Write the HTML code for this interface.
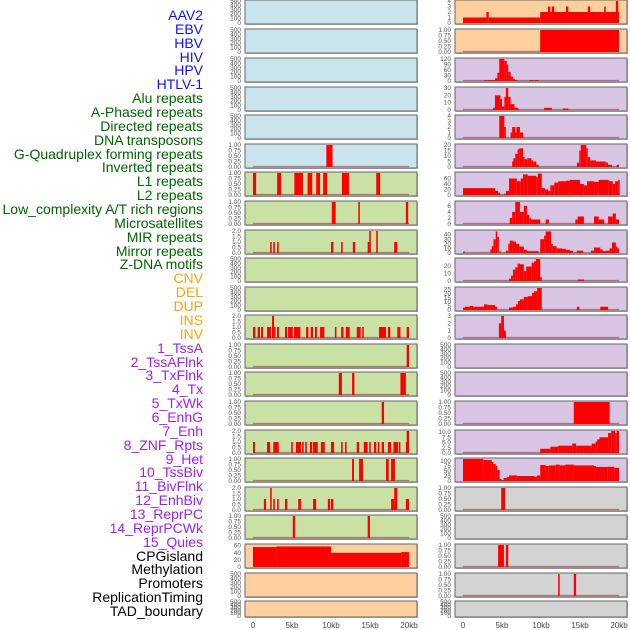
<!DOCTYPE html>
<html><head><meta charset="utf-8">
<style>
body{margin:0;background:#fff;width:630px;height:630px;overflow:hidden;font-family:"Liberation Sans",sans-serif}
#lbl div{position:absolute;right:427px;font-size:14px;line-height:14px;white-space:nowrap}
</style></head>
<body>
<div id="lbl"></div>
<svg id="chart" width="630" height="630" style="position:absolute;left:0;top:0"></svg>
<script>
const labels=["AAV2","EBV","HBV","HIV","HPV","HTLV-1","Alu repeats","A-Phased repeats","Directed repeats","DNA transposons","G-Quadruplex forming repeats","Inverted repeats","L1 repeats","L2 repeats","Low_complexity A/T rich regions","Microsatellites","MIR repeats","Mirror repeats","Z-DNA motifs","CNV","DEL","DUP","INS","INV","1_TssA","2_TssAFlnk","3_TxFlnk","4_Tx","5_TxWk","6_EnhG","7_Enh","8_ZNF_Rpts","9_Het","10_TssBiv","11_BivFlnk","12_EnhBiv","13_ReprPC","14_ReprPCWk","15_Quies","CPGisland","Methylation","Promoters","ReplicationTiming","TAD_boundary"];
const labelColors=["#1010ff","#006400","#ffa500","#a020f0","#000"];
const groupSizes=[6,13,5,15,5];
const T500=["0","100","200","300","400","500"],T1=["0.00","0.25","0.50","0.75","1.00"],T2=["0.0","0.5","1.0","1.5","2.0"];
const xTicks=[0,5,10,15,20];
const xTickLabels=["0","5kb","10kb","15kb","20kb"];
// each track: [max, ticks, segments [startKb,endKb,value]]
const leftTracks=[
[500,T500,[]],[500,T500,[]],[500,T500,[]],[500,T500,[]],[500,T500,[]],
[1,T1,[[9.4,10.2,1]]],
[1,T1,[[0,0.4,1],[3.1,3.6,1],[5.3,6.4,1],[7.0,7.6,1],[8.1,8.6,1],[9.0,9.5,1],[11.4,12.3,1],[15.8,16.3,1]]],
[1,T1,[[10.1,10.6,1],[13.5,13.7,1],[19.6,19.9,1]]],
[2,T2,[[2.2,2.4,1],[2.6,2.8,1],[3.1,3.3,1],[10.0,10.3,1],[11.3,11.5,1],[12.8,13.1,1],[14.7,15.0,1],[14.9,15.1,2],[15.8,16.0,2],[18.1,18.5,1]]],
[500,T500,[]],[500,T500,[]],
[2,T2,[[0,0.3,1],[0.6,0.9,1],[1.03,1.28,1],[1.8,2.3,1],[2.44,2.7,2],[2.7,2.8,1],[3.08,3.33,1],[4.1,4.36,1],[4.5,5.1,1],[5.26,6.07,1],[6.8,7.1,1],[7.4,7.7,1],[7.95,8.2,1],[8.6,9.15,1],[10.5,10.7,1],[11.3,11.6,1],[11.9,12.4,1],[13.3,13.8,1],[14.0,14.2,1],[16.15,17.05,1],[17.3,17.6,1],[18.5,18.9,1],[19.7,20.0,1]]],
[1,T1,[[19.7,20.0,1]]],
[1,T1,[[11.0,11.4,1],[12.7,13.0,1],[18.9,19.6,1]]],
[1,T1,[[16.5,16.8,1]]],
[2,T2,[[0,0.25,1],[1.8,2.2,1],[2.6,3.3,1],[4.9,5.1,1],[5.5,6.15,1],[6.3,6.5,1],[6.7,6.9,1],[7.3,7.6,1],[7.7,8.3,1],[8.7,9.2,1],[10.0,10.4,1],[11.3,11.5,1],[11.8,12.0,1],[13.3,13.6,1],[14.2,14.7,1],[14.9,15.1,1],[15.5,15.8,1],[16.0,16.2,1],[16.5,16.8,1],[17.3,17.7,1],[18.0,18.6,1],[18.7,18.9,1],[19.6,19.7,1],[19.7,20.0,2]]],
[1,T1,[[12.7,12.95,1],[13.6,14.1,1],[17.05,17.4,1],[17.7,18.2,1]]],
[2,T2,[[1.4,1.67,1],[2.2,2.4,2],[2.6,2.8,1],[3.1,3.3,1],[4.1,4.4,1],[5.8,6.15,1],[7.7,8.1,1],[9.6,9.9,1],[10.0,10.3,1],[17.7,18.1,1],[18.1,18.5,2],[19.6,20.0,1]]],
[1,T1,[[5.1,5.4,1],[14.7,15.0,1]]],
[62,["0","20","40","60"],[[0,3,56],[3,10,58],[10,19,40],[19,20,42]]],
[500,T500,[]],[500,T500,[]]
];
const rightTracks=[
[4,["0","1","2","3","4"],[[0,3.0,1],[3.0,3.3,2],[3.3,9.9,1],[9.9,20,2],[10.9,11.2,3],[11.4,11.7,3],[13.2,13.5,3],[16.0,16.3,3],[18.1,18.3,3],[19.6,19.9,4]]],
[1,T1,[[9.9,20,1]]],
[120,["0","30","60","90","120"],[[2.7,4.1,5],[4.1,4.4,15],[4.4,4.65,45],[4.65,5.3,120],[5.3,5.6,110],[5.6,5.8,90],[5.8,6.1,50],[6.1,6.4,25],[6.4,6.7,10],[6.7,7.0,5],[8.5,9.1,5],[9.2,9.7,5]]],
[30,["0","10","20","30"],[[3.85,4.1,3],[4.1,4.8,20],[4.8,5.0,15],[5.0,5.3,5],[5.3,5.5,18],[5.5,5.8,30],[5.8,6.1,18],[6.1,6.6,8],[6.6,7.1,3],[10.4,11.4,3],[12.8,13.5,2]]],
[4,["0","1","2","3","4"],[[4.65,5.3,4],[5.3,5.5,2],[6.1,6.3,1],[6.3,6.7,2],[6.7,6.85,1],[6.85,7.3,2],[7.3,7.7,1]]],
[20,["0","5","10","15","20"],[[6.3,6.45,5],[6.45,6.7,8],[6.7,7.0,12],[7.0,7.2,16],[7.2,7.7,17],[7.7,7.9,9],[7.9,8.25,7],[8.25,8.75,8],[8.75,9.0,6],[9.0,9.4,5],[9.4,9.7,2],[14.6,14.9,4],[14.9,15.1,15],[15.1,15.8,20],[15.8,16.0,17],[16.0,16.3,9],[16.3,17.05,6],[17.05,18.3,5],[18.3,18.6,4],[18.6,19.1,2],[19.7,20,2]]],
[80,["0","20","40","60"],[[0,4.1,25],[4.1,4.5,15],[4.5,4.75,8],[5.3,5.5,5],[5.5,5.9,15],[5.9,6.9,60],[6.9,7.4,50],[7.4,7.7,60],[7.7,8.3,75],[8.3,9.4,70],[9.4,9.6,65],[9.6,10.1,78],[10.1,10.5,25],[10.5,10.9,20],[10.9,11.2,15],[11.2,11.7,35],[11.7,12.2,45],[12.2,13.2,50],[13.2,13.7,52],[13.7,15.0,55],[15.0,15.5,40],[15.5,15.9,35],[15.9,16.8,50],[16.8,17.4,48],[17.4,18.7,55],[18.7,19.2,50],[19.2,19.5,40],[19.5,19.9,50],[19.9,20,55]]],
[7.3,["0","2","4","6"],[[6.0,6.3,2],[6.3,6.7,4],[6.7,7.3,7.3],[7.3,7.8,4],[7.8,8.2,6],[8.2,8.5,3],[8.5,8.7,2],[8.7,9.9,1.5],[10.6,11.0,1.5],[14.4,14.7,1.5],[14.7,15.5,2.5],[16.8,17.4,2.5],[17.4,18.1,1.5],[18.6,19.2,2.5],[19.2,19.6,3.5],[19.6,20,1.5]]],
[48,["0","10","20","30","40"],[[0,0.26,3],[3.5,3.7,8],[3.7,3.9,15],[3.9,4.2,30],[4.2,4.4,47],[4.4,4.6,35],[4.6,4.9,3],[5.5,5.8,5],[5.8,6.0,20],[6.0,6.4,27],[6.4,6.8,25],[6.8,7.2,20],[7.2,7.8,14],[7.8,8.2,7],[8.2,9.7,4],[9.9,10.4,30],[10.4,10.6,38],[10.6,11.3,47],[11.3,11.5,20],[11.5,12.0,15],[12.0,12.7,10],[12.7,13.2,9],[13.2,13.7,7],[13.7,14.1,5],[14.6,15.4,5],[16.4,16.8,5],[16.8,17.6,12],[17.6,17.9,8],[17.9,18.3,4],[18.3,18.8,5],[18.8,19.1,10],[19.1,19.6,23],[19.6,19.8,14],[19.8,20,10]]],
[29,["0","10","20"],[[5.9,6.15,3],[6.15,6.4,7],[6.4,6.7,15],[6.7,7.0,18],[7.0,7.3,23],[7.3,7.8,22],[7.8,8.1,13],[8.1,8.8,19],[8.8,9.1,24],[9.1,9.35,26],[9.35,9.9,29],[9.9,10.1,5],[14.7,15.5,2]]],
[27,["0","5","10","15","20","25"],[[0,0.26,3],[0.26,0.9,4],[0.9,1.3,5],[1.3,2.7,4],[2.7,3.1,7],[3.1,4.1,6],[4.1,4.35,4],[5.9,6.4,3],[6.4,6.8,4],[6.8,7.05,7],[7.05,7.3,11],[7.3,7.8,13],[7.8,8.3,16],[8.3,8.85,17],[8.85,9.1,21],[9.1,9.5,23],[9.5,10.1,27],[14.6,14.9,4],[17.6,18.6,4]]],
[3,["0","1","2","3"],[[4.6,4.9,2],[4.9,5.25,3],[5.25,5.5,1]]],
[500,T500,[]],[500,T500,[]],
[1,T1,[[14.2,18.8,1]]],
[10.5,["0.0","2.5","5.0","7.5","10.0"],[[9.9,11.2,2],[11.2,12.2,3],[12.2,14.0,3.5],[14.0,14.5,4.5],[14.5,16.5,3.5],[16.5,17.0,4.5],[17.0,17.2,5.5],[17.2,17.5,6.5],[17.5,18.6,7.5],[18.6,19.0,9.5],[19.0,19.5,10.5],[19.5,19.7,9.5],[19.7,20,10.5]]],
[110,["0","25","50","75","100"],[[0,2.6,110],[2.6,3.7,105],[3.7,3.9,95],[3.9,4.2,85],[4.2,4.4,75],[4.4,4.7,55],[4.7,4.9,10],[4.9,5.2,5],[5.2,5.6,15],[5.6,5.9,20],[5.9,6.9,28],[6.9,9.1,25],[9.1,9.5,22],[9.5,9.9,28],[9.9,10.6,80],[10.6,11.0,75],[11.0,11.9,78],[11.9,12.4,82],[12.4,13.1,78],[13.1,14.2,82],[14.2,16.8,78],[16.8,17.05,75],[17.05,18.5,70],[18.5,19.4,71],[19.4,20,66]]],
[1,T1,[[4.9,5.4,1]]],
[500,T500,[]],
[1,T1,[[4.5,5.25,1],[5.5,5.8,1]]],
[1,T1,[[12.2,12.4,1],[14.2,14.5,1]]],
[500,T500,[]]
];
const leftBg=[..."bbbbbbggggggggggggggppp"];
const BG={b:"#c9e4ec",g:"#c9e1a5",p:"#ffd09f",u:"#d7c5e3",y:"#d3d3d3"};
const leftBgCodes="bbbbbbgggggggggggggppp";
const rightBgCodes="ppuuuuuuuuuuuuuuuyyyyy";

// labels
const lbl=document.getElementById('lbl');
let gi=0,cnt=0;
labels.forEach((t,i)=>{
  const d=document.createElement('div');
  
  
  d.textContent=t;
  d.style.top=(15+i*13.86-7)+'px';
  d.style.color=labelColors[gi];
  lbl.appendChild(d);
  cnt++; if(cnt>=groupSizes[gi]){gi++;cnt=0;}
});

const svg=document.getElementById('chart');
const NS="http://www.w3.org/2000/svg";
function mk(tag,attrs,parent){const e=document.createElementNS(NS,tag);for(const k in attrs)e.setAttribute(k,attrs[k]);parent.appendChild(e);return e;}
const rowTops=[0,29,58,87,115,144,172,201,230,258,287,315,344,372,401,430,458,487,515,544,573,601];
function drawCol(tracks,codes,px0,names){
  const dx=px0+8;
  const xs=kb=>dx+kb*7.8;
  tracks.forEach((tr,i)=>{
    const [mx,ticks,segs]=tr;
    const T=rowTops[i],H=(i==21?16:24);
    const ys=v=>T+H-1-v/mx*(H-2);
    const g=mk('g',{},svg);
    
    
    mk('rect',{x:px0+1,y:T+1,width:172,height:H,fill:'#bbb'},g);
    mk('rect',{x:px0,y:T,width:172,height:H,fill:BG[codes[i]],stroke:'#666','stroke-width':1},g);
    if(segs.length) mk('line',{x1:xs(0),x2:xs(20),y1:ys(0)-0.5,y2:ys(0)-0.5,stroke:'#a03040','stroke-opacity':0.6,'stroke-width':1.2},g);
    segs.forEach(s=>{
      const x1=xs(s[0]),x2=xs(s[1]);
      const r=mk('rect',{x:x1,y:ys(s[2]),width:Math.max(1.5,x2-x1),height:ys(0)-ys(s[2]),fill:'#ff0000'},g);
      
      
    });
    ticks.forEach(t=>{
      const tx=mk('text',{x:px0-4,y:ys(parseFloat(t))+2,'font-size':6.5,fill:'#555','text-anchor':'end','font-family':'Liberation Sans, sans-serif'},g);
      tx.textContent=t;
      
      
    });
  });
  xTicks.forEach((k,j)=>{
    const tx=mk('text',{x:xs(k),y:628,'font-size':8,fill:'#444','text-anchor':'middle','font-family':'Liberation Sans, sans-serif'},svg);
    tx.textContent=xTickLabels[j];
    
    
  });
}
drawCol(leftTracks,leftBgCodes,245,labels.slice(0,22));
drawCol(rightTracks,rightBgCodes,455,labels.slice(22));
</script>
</body></html>
